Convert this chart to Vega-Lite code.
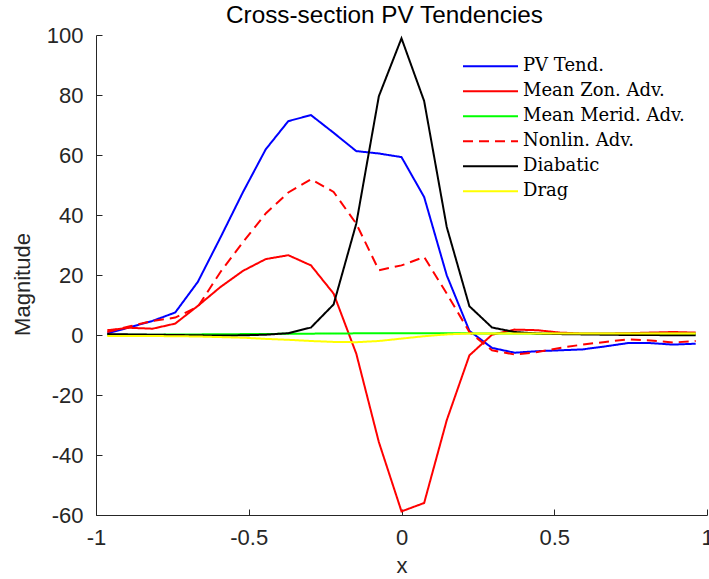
{
  "$schema": "https://vega.github.io/schema/vega-lite/v6.json",
  "autosize": {"type": "none"},
  "padding": {"left": 96, "top": 35, "right": 2, "bottom": 64},
  "width": 611,
  "height": 480,
  "background": "white",
  "config": {
    "view": {"stroke": null},
    "font": "Liberation Sans",
    "axis": {
      "domainColor": "#262626", "tickColor": "#262626", "labelColor": "#262626", "titleColor": "#262626",
      "domainWidth": 1, "tickWidth": 1, "grid": false,
      "labelFont": "Liberation Sans", "labelFontSize": 22, "titleFont": "Liberation Sans", "titleFontSize": 22, "titleFontWeight": "normal"
    }
  },
  "title": {"text": "Cross-section PV Tendencies", "font": "Liberation Sans", "fontSize": 24.3, "fontWeight": "normal", "color": "black", "anchor": "middle", "frame": "group", "baseline": "alphabetic", "offset": 11, "dy": 34, "dx": -17},
  "data": {"values": [
    {"x": -0.963, "series": "PV Tend.", "v": 0.5},
    {"x": -0.8889, "series": "PV Tend.", "v": 2.6},
    {"x": -0.8148, "series": "PV Tend.", "v": 4.7},
    {"x": -0.7407, "series": "PV Tend.", "v": 7.5},
    {"x": -0.6667, "series": "PV Tend.", "v": 17.7},
    {"x": -0.5926, "series": "PV Tend.", "v": 32.5},
    {"x": -0.5185, "series": "PV Tend.", "v": 47.7},
    {"x": -0.4444, "series": "PV Tend.", "v": 61.9},
    {"x": -0.3704, "series": "PV Tend.", "v": 71.3},
    {"x": -0.2963, "series": "PV Tend.", "v": 73.3},
    {"x": -0.2222, "series": "PV Tend.", "v": 67.4},
    {"x": -0.1481, "series": "PV Tend.", "v": 61.3},
    {"x": -0.0741, "series": "PV Tend.", "v": 60.5},
    {"x": 0, "series": "PV Tend.", "v": 59.3},
    {"x": 0.0741, "series": "PV Tend.", "v": 46},
    {"x": 0.1481, "series": "PV Tend.", "v": 19.9},
    {"x": 0.2222, "series": "PV Tend.", "v": 1.4},
    {"x": 0.2963, "series": "PV Tend.", "v": -4.3},
    {"x": 0.3704, "series": "PV Tend.", "v": -5.9},
    {"x": 0.4444, "series": "PV Tend.", "v": -5.4},
    {"x": 0.5185, "series": "PV Tend.", "v": -5.1},
    {"x": 0.5926, "series": "PV Tend.", "v": -4.8},
    {"x": 0.6667, "series": "PV Tend.", "v": -3.8},
    {"x": 0.7407, "series": "PV Tend.", "v": -2.7},
    {"x": 0.8148, "series": "PV Tend.", "v": -2.7},
    {"x": 0.8889, "series": "PV Tend.", "v": -3.2},
    {"x": 0.963, "series": "PV Tend.", "v": -2.9},

    {"x": -0.963, "series": "Mean Zon. Adv.", "v": 1.6},
    {"x": -0.8889, "series": "Mean Zon. Adv.", "v": 2.4},
    {"x": -0.8148, "series": "Mean Zon. Adv.", "v": 2.1},
    {"x": -0.7407, "series": "Mean Zon. Adv.", "v": 3.8},
    {"x": -0.6667, "series": "Mean Zon. Adv.", "v": 9.7},
    {"x": -0.5926, "series": "Mean Zon. Adv.", "v": 16},
    {"x": -0.5185, "series": "Mean Zon. Adv.", "v": 21.4},
    {"x": -0.4444, "series": "Mean Zon. Adv.", "v": 25.3},
    {"x": -0.3704, "series": "Mean Zon. Adv.", "v": 26.6},
    {"x": -0.2963, "series": "Mean Zon. Adv.", "v": 23.2},
    {"x": -0.2222, "series": "Mean Zon. Adv.", "v": 13.8},
    {"x": -0.1481, "series": "Mean Zon. Adv.", "v": -6.2},
    {"x": -0.0741, "series": "Mean Zon. Adv.", "v": -35.7},
    {"x": 0, "series": "Mean Zon. Adv.", "v": -58.8},
    {"x": 0.0741, "series": "Mean Zon. Adv.", "v": -56},
    {"x": 0.1481, "series": "Mean Zon. Adv.", "v": -28.4},
    {"x": 0.2222, "series": "Mean Zon. Adv.", "v": -6.8},
    {"x": 0.2963, "series": "Mean Zon. Adv.", "v": 0.1},
    {"x": 0.3704, "series": "Mean Zon. Adv.", "v": 1.8},
    {"x": 0.4444, "series": "Mean Zon. Adv.", "v": 1.6},
    {"x": 0.5185, "series": "Mean Zon. Adv.", "v": 0.8},
    {"x": 0.5926, "series": "Mean Zon. Adv.", "v": 0.5},
    {"x": 0.6667, "series": "Mean Zon. Adv.", "v": 0.5},
    {"x": 0.7407, "series": "Mean Zon. Adv.", "v": 0.6},
    {"x": 0.8148, "series": "Mean Zon. Adv.", "v": 0.8},
    {"x": 0.8889, "series": "Mean Zon. Adv.", "v": 1.0},
    {"x": 0.963, "series": "Mean Zon. Adv.", "v": 0.8},

    {"x": -0.963, "series": "Mean Merid. Adv.", "v": 0.1},
    {"x": -0.8889, "series": "Mean Merid. Adv.", "v": 0.1},
    {"x": -0.8148, "series": "Mean Merid. Adv.", "v": 0.1},
    {"x": -0.7407, "series": "Mean Merid. Adv.", "v": 0.15},
    {"x": -0.6667, "series": "Mean Merid. Adv.", "v": 0.2},
    {"x": -0.5926, "series": "Mean Merid. Adv.", "v": 0.25},
    {"x": -0.5185, "series": "Mean Merid. Adv.", "v": 0.3},
    {"x": -0.4444, "series": "Mean Merid. Adv.", "v": 0.35},
    {"x": -0.3704, "series": "Mean Merid. Adv.", "v": 0.4},
    {"x": -0.2963, "series": "Mean Merid. Adv.", "v": 0.45},
    {"x": -0.2222, "series": "Mean Merid. Adv.", "v": 0.5},
    {"x": -0.1481, "series": "Mean Merid. Adv.", "v": 0.55},
    {"x": -0.0741, "series": "Mean Merid. Adv.", "v": 0.6},
    {"x": 0, "series": "Mean Merid. Adv.", "v": 0.6},
    {"x": 0.0741, "series": "Mean Merid. Adv.", "v": 0.6},
    {"x": 0.1481, "series": "Mean Merid. Adv.", "v": 0.6},
    {"x": 0.2222, "series": "Mean Merid. Adv.", "v": 0.55},
    {"x": 0.2963, "series": "Mean Merid. Adv.", "v": 0.5},
    {"x": 0.3704, "series": "Mean Merid. Adv.", "v": 0.5},
    {"x": 0.4444, "series": "Mean Merid. Adv.", "v": 0.45},
    {"x": 0.5185, "series": "Mean Merid. Adv.", "v": 0.45},
    {"x": 0.5926, "series": "Mean Merid. Adv.", "v": 0.4},
    {"x": 0.6667, "series": "Mean Merid. Adv.", "v": 0.4},
    {"x": 0.7407, "series": "Mean Merid. Adv.", "v": 0.4},
    {"x": 0.8148, "series": "Mean Merid. Adv.", "v": 0.4},
    {"x": 0.8889, "series": "Mean Merid. Adv.", "v": 0.4},
    {"x": 0.963, "series": "Mean Merid. Adv.", "v": 0.4},

    {"x": -0.963, "series": "Nonlin. Adv.", "v": 1.0},
    {"x": -0.8889, "series": "Nonlin. Adv.", "v": 2.9},
    {"x": -0.8148, "series": "Nonlin. Adv.", "v": 4.7},
    {"x": -0.7407, "series": "Nonlin. Adv.", "v": 5.8},
    {"x": -0.6667, "series": "Nonlin. Adv.", "v": 9.4},
    {"x": -0.5926, "series": "Nonlin. Adv.", "v": 21},
    {"x": -0.5185, "series": "Nonlin. Adv.", "v": 31},
    {"x": -0.4444, "series": "Nonlin. Adv.", "v": 40.5},
    {"x": -0.3704, "series": "Nonlin. Adv.", "v": 47.5},
    {"x": -0.2963, "series": "Nonlin. Adv.", "v": 51.9},
    {"x": -0.2222, "series": "Nonlin. Adv.", "v": 47.7},
    {"x": -0.1481, "series": "Nonlin. Adv.", "v": 37.1},
    {"x": -0.0741, "series": "Nonlin. Adv.", "v": 21.6},
    {"x": 0, "series": "Nonlin. Adv.", "v": 23.2},
    {"x": 0.0741, "series": "Nonlin. Adv.", "v": 26},
    {"x": 0.1481, "series": "Nonlin. Adv.", "v": 13.8},
    {"x": 0.2222, "series": "Nonlin. Adv.", "v": 1.0},
    {"x": 0.2963, "series": "Nonlin. Adv.", "v": -5.1},
    {"x": 0.3704, "series": "Nonlin. Adv.", "v": -6.5},
    {"x": 0.4444, "series": "Nonlin. Adv.", "v": -5.7},
    {"x": 0.5185, "series": "Nonlin. Adv.", "v": -4.3},
    {"x": 0.5926, "series": "Nonlin. Adv.", "v": -3.2},
    {"x": 0.6667, "series": "Nonlin. Adv.", "v": -2.3},
    {"x": 0.7407, "series": "Nonlin. Adv.", "v": -1.5},
    {"x": 0.8148, "series": "Nonlin. Adv.", "v": -1.8},
    {"x": 0.8889, "series": "Nonlin. Adv.", "v": -2.5},
    {"x": 0.963, "series": "Nonlin. Adv.", "v": -2.0},

    {"x": -0.963, "series": "Diabatic", "v": 0.3},
    {"x": -0.8889, "series": "Diabatic", "v": 0.2},
    {"x": -0.8148, "series": "Diabatic", "v": 0.1},
    {"x": -0.7407, "series": "Diabatic", "v": 0.0},
    {"x": -0.6667, "series": "Diabatic", "v": -0.1},
    {"x": -0.5926, "series": "Diabatic", "v": -0.2},
    {"x": -0.5185, "series": "Diabatic", "v": -0.1},
    {"x": -0.4444, "series": "Diabatic", "v": 0.1},
    {"x": -0.3704, "series": "Diabatic", "v": 0.6},
    {"x": -0.2963, "series": "Diabatic", "v": 2.5},
    {"x": -0.2222, "series": "Diabatic", "v": 10.2},
    {"x": -0.1481, "series": "Diabatic", "v": 37.1},
    {"x": -0.0741, "series": "Diabatic", "v": 79.6},
    {"x": 0, "series": "Diabatic", "v": 98.9},
    {"x": 0.0741, "series": "Diabatic", "v": 78.0},
    {"x": 0.1481, "series": "Diabatic", "v": 36},
    {"x": 0.2222, "series": "Diabatic", "v": 9.6},
    {"x": 0.2963, "series": "Diabatic", "v": 2.5},
    {"x": 0.3704, "series": "Diabatic", "v": 1.0},
    {"x": 0.4444, "series": "Diabatic", "v": 0.5},
    {"x": 0.5185, "series": "Diabatic", "v": 0.3},
    {"x": 0.5926, "series": "Diabatic", "v": 0.2},
    {"x": 0.6667, "series": "Diabatic", "v": 0.1},
    {"x": 0.7407, "series": "Diabatic", "v": 0.0},
    {"x": 0.8148, "series": "Diabatic", "v": 0.0},
    {"x": 0.8889, "series": "Diabatic", "v": -0.1},
    {"x": 0.963, "series": "Diabatic", "v": -0.1},

    {"x": -0.963, "series": "Drag", "v": -0.3},
    {"x": -0.8889, "series": "Drag", "v": -0.3},
    {"x": -0.8148, "series": "Drag", "v": -0.35},
    {"x": -0.7407, "series": "Drag", "v": -0.4},
    {"x": -0.6667, "series": "Drag", "v": -0.5},
    {"x": -0.5926, "series": "Drag", "v": -0.7},
    {"x": -0.5185, "series": "Drag", "v": -0.9},
    {"x": -0.4444, "series": "Drag", "v": -1.3},
    {"x": -0.3704, "series": "Drag", "v": -1.6},
    {"x": -0.2963, "series": "Drag", "v": -2.0},
    {"x": -0.2222, "series": "Drag", "v": -2.3},
    {"x": -0.1481, "series": "Drag", "v": -2.4},
    {"x": -0.0741, "series": "Drag", "v": -2.0},
    {"x": 0, "series": "Drag", "v": -1.2},
    {"x": 0.0741, "series": "Drag", "v": -0.4},
    {"x": 0.1481, "series": "Drag", "v": 0.2},
    {"x": 0.2222, "series": "Drag", "v": 0.5},
    {"x": 0.2963, "series": "Drag", "v": 0.5},
    {"x": 0.3704, "series": "Drag", "v": 0.5},
    {"x": 0.4444, "series": "Drag", "v": 0.5},
    {"x": 0.5185, "series": "Drag", "v": 0.5},
    {"x": 0.5926, "series": "Drag", "v": 0.5},
    {"x": 0.6667, "series": "Drag", "v": 0.5},
    {"x": 0.7407, "series": "Drag", "v": 0.5},
    {"x": 0.8148, "series": "Drag", "v": 0.5},
    {"x": 0.8889, "series": "Drag", "v": 0.5},
    {"x": 0.963, "series": "Drag", "v": 0.5}
  ]},
  "mark": {"type": "line", "strokeWidth": 2, "clip": true},
  "encoding": {
    "x": {"field": "x", "type": "quantitative",
      "scale": {"domain": [-1, 1], "nice": false, "zero": false},
      "axis": {"title": "x", "values": [-1, -0.5, 0, 0.5, 1], "labelExpr": "datum.value + ''", "tickSize": -6, "labelPadding": 18, "labelBaseline": "top", "labelFlush": false, "labelOverlap": false, "titleX": 305.5, "titleY": 57, "titleBaseline": "alphabetic", "titleAnchor": "middle"}},
    "y": {"field": "v", "type": "quantitative",
      "scale": {"domain": [-60, 100], "nice": false, "zero": false},
      "axis": {"title": "Magnitude", "values": [-60, -40, -20, 0, 20, 40, 60, 80, 100], "labelExpr": "datum.value + ''", "tickSize": -6, "labelPadding": 19, "labelFlush": false, "labelOverlap": false, "titleX": -74, "titleY": 249, "titleAngle": -90, "titleBaseline": "middle", "titleAnchor": "middle"}},
    "color": {"field": "series", "type": "nominal",
      "scale": {"domain": ["PV Tend.", "Mean Zon. Adv.", "Mean Merid. Adv.", "Nonlin. Adv.", "Diabatic", "Drag"],
                "range": ["#0000ff", "#ff0000", "#00ff00", "#ff0000", "#000000", "#ffff00"]},
      "legend": {"title": null, "orient": "none", "legendX": 366, "legendY": 19, "symbolType": "stroke", "symbolSize": 3025, "symbolStrokeWidth": 2, "labelFont": "DejaVu Serif", "labelFontSize": 18, "labelColor": "black", "labelOffset": 4, "rowPadding": 0, "clipHeight": 24.6, "labelLimit": 300}},
    "strokeDash": {"field": "series", "type": "nominal",
      "scale": {"domain": ["PV Tend.", "Mean Zon. Adv.", "Mean Merid. Adv.", "Nonlin. Adv.", "Diabatic", "Drag"],
                "range": [[1, 0], [1, 0], [1, 0], [10, 6], [1, 0], [1, 0]]},
      "legend": {"title": null, "orient": "none", "legendX": 366, "legendY": 19, "symbolType": "stroke", "symbolSize": 3025, "symbolStrokeWidth": 2, "labelFont": "DejaVu Serif", "labelFontSize": 18, "labelColor": "black", "labelOffset": 4, "rowPadding": 0, "clipHeight": 24.6, "labelLimit": 300}}
  }
}
